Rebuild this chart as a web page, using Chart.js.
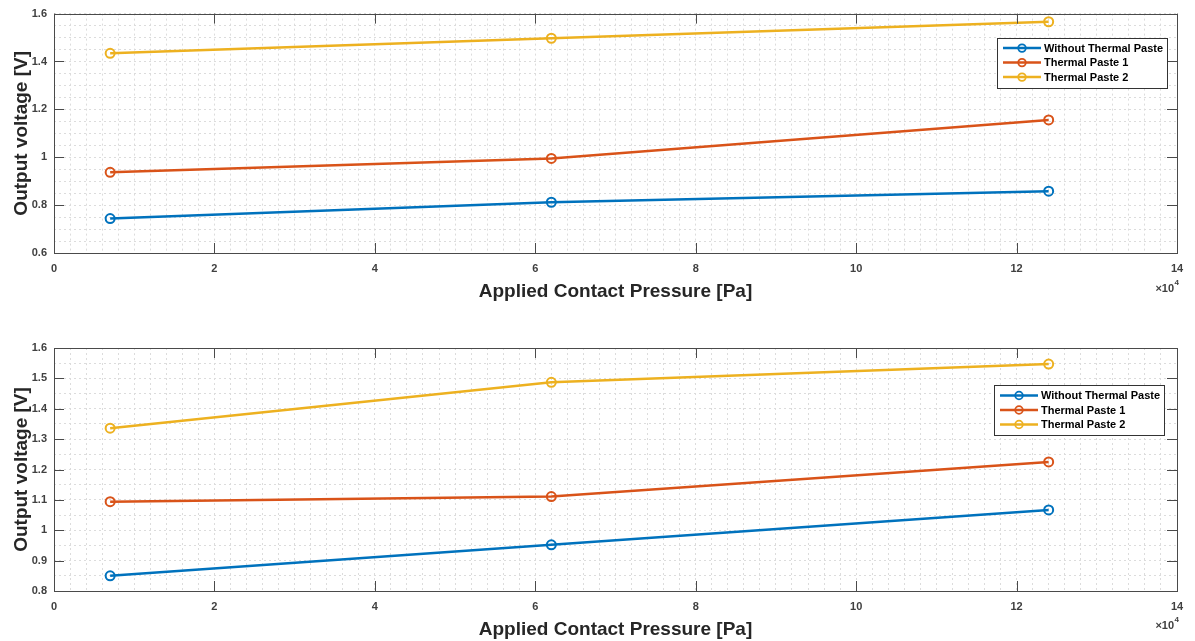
<!DOCTYPE html>
<html><head><meta charset="utf-8">
<script src="https://cdn.jsdelivr.net/npm/chart.js@4/dist/chart.umd.min.js"></script>
<style>
html,body{margin:0;padding:0;background:#fff;overflow:hidden}
.wrap{position:absolute;left:0;width:1195px}
</style></head><body>
<div class="wrap" style="top:0;height:320px"><canvas id="c1" width="1195" height="320"></canvas></div>
<div class="wrap" style="top:320px;height:321px"><canvas id="c2" width="1195" height="321"></canvas></div>
<script>
// ---- data ----
const pressure = [7000, 62000, 124000];
const seriesNames = ['Without Thermal Paste', 'Thermal Paste 1', 'Thermal Paste 2'];
const top_without = [0.744, 0.812, 0.858];
const top_paste1 = [0.937, 0.995, 1.156];
const top_paste2 = [1.434, 1.497, 1.566];
const bottom_without = [0.850, 0.952, 1.067];
const bottom_paste1 = [1.094, 1.111, 1.225];
const bottom_paste2 = [1.336, 1.487, 1.547];
const xMajorTicks = [0, 2, 4, 6, 8, 10, 12, 14];
const topYMajorTicks = [0.6, 0.8, 1, 1.2, 1.4, 1.6];
const bottomYMajorTicks = [0.8, 0.9, 1, 1.1, 1.2, 1.3, 1.4, 1.5, 1.6];
const xExponent = '4';

const colors = ['#0072BD', '#D95319', '#EDB120'];
const FONT = "'Liberation Sans', Arial, Helvetica, sans-serif";

function isMajor(v, list) { return list.some(m => Math.abs(m - v) < 1e-6); }

const matlabPlugin = {
  id: 'matlab',
  afterDatasetsDraw(chart, args, o) {
    const {ctx, chartArea: a, scales: {x, y}} = chart;
    ctx.save();
    ctx.strokeStyle = '#4a4a4a';
    ctx.lineWidth = 1;
    ctx.beginPath();
    const tl = 10;
    xMajorTicks.forEach(t => {
      const px = Math.round(x.getPixelForValue(t * 10000)) + 0.5;
      ctx.moveTo(px, a.bottom); ctx.lineTo(px, a.bottom - tl);
      ctx.moveTo(px, a.top); ctx.lineTo(px, a.top + tl);
    });
    o.yMajor.forEach(t => {
      const py = Math.round(y.getPixelForValue(t)) + 0.5;
      ctx.moveTo(a.left, py); ctx.lineTo(a.left + tl, py);
      ctx.moveTo(a.right, py); ctx.lineTo(a.right - tl, py);
    });
    ctx.stroke();
    ctx.strokeRect(Math.round(a.left) + 0.5, Math.round(a.top) + 0.5,
      Math.round(a.right - a.left), Math.round(a.bottom - a.top));
    ctx.restore();
  },
  afterDraw(chart, args, o) {
    const {ctx, chartArea: a} = chart;
    ctx.save();
    ctx.fillStyle = '#404040';
    ctx.textBaseline = 'middle';
    ctx.textAlign = 'right';
    ctx.font = 'bold 8px ' + FONT;
    const ex = a.right + 2;
    ctx.fillText(xExponent, ex, o.expY - 6);
    const w4 = ctx.measureText(xExponent).width;
    ctx.font = 'bold 11px ' + FONT;
    ctx.fillText('\u00d710', ex - w4 - 0.5, o.expY);
    const L = o.legend;
    const bw = 170, bh = 50;
    const bx = a.right - L.right - bw, by = a.top + L.top;
    ctx.fillStyle = '#fff';
    ctx.fillRect(bx, by, bw, bh);
    ctx.strokeStyle = '#333';
    ctx.lineWidth = 1;
    ctx.strokeRect(Math.round(bx) + 0.5, Math.round(by) + 0.5, bw, bh);
    chart.data.datasets.forEach((ds, i) => {
      const cy = by + 10.5 + i * 14.5;
      ctx.strokeStyle = ds.borderColor;
      ctx.lineWidth = 2.5;
      ctx.beginPath();
      ctx.moveTo(bx + 6, cy); ctx.lineTo(bx + 44, cy);
      ctx.stroke();
      ctx.lineWidth = 1.8;
      ctx.beginPath();
      ctx.arc(bx + 25, cy, 3.8, 0, Math.PI * 2);
      ctx.stroke();
      ctx.fillStyle = '#000';
      ctx.textAlign = 'left';
      ctx.font = 'bold 11px ' + FONT;
      ctx.fillText(ds.label, bx + 47, cy + 0.5);
    });
    ctx.restore();
  }
};

function makeChart(id, series, yMin, yMax, yStep, yMajor, cfg) {
  const datasets = series.map((vals, i) => ({
    label: seriesNames[i],
    data: vals.map((v, j) => ({x: pressure[j], y: v})),
    borderColor: colors[i],
    backgroundColor: 'rgba(0,0,0,0)',
    borderWidth: 2.5,
    pointRadius: 4.5,
    pointBorderWidth: 2,
    pointBackgroundColor: 'rgba(255,255,255,0)',
    pointBorderColor: colors[i],
    tension: 0,
    fill: false
  }));
  return new Chart(document.getElementById(id), {
    type: 'line',
    data: {datasets},
    plugins: [matlabPlugin],
    options: {
      responsive: false,
      animation: false,
      devicePixelRatio: 1,
      layout: {padding: {top: cfg.padTop, right: 18, left: 0, bottom: 0}},
      plugins: {
        legend: {display: false},
        tooltip: {enabled: false},
        matlab: {yMajor, expY: cfg.expY, legend: cfg.legend}
      },
      scales: {
        x: {
          type: 'linear', min: 0, max: 140000,
          afterFit: s => { s.height = cfg.xHeight; },
          grid: {color: '#dcdcdc', lineWidth: 1, drawTicks: false},
          border: {display: false, dash: [2, 3]},
          ticks: {
            stepSize: 2000, autoSkip: false, maxRotation: 0, padding: 9,
            color: '#404040', font: {family: FONT, size: 11, weight: 'bold'},
            callback: v => isMajor(v / 10000, xMajorTicks) ? String(Math.round(v / 10000)) : ''
          },
          title: {
            display: true, text: 'Applied Contact Pressure [Pa]', color: '#262626',
            font: {family: FONT, size: 19, weight: 'bold'},
            padding: {top: 0, bottom: cfg.xTitlePad}
          }
        },
        y: {
          type: 'linear', min: yMin, max: yMax,
          afterFit: s => { s.width = 54; },
          grid: {color: '#dcdcdc', lineWidth: 1, drawTicks: false},
          border: {display: false, dash: [2, 3]},
          ticks: {
            stepSize: yStep, autoSkip: false, padding: 7,
            color: '#404040', font: {family: FONT, size: 11, weight: 'bold'},
            callback: v => isMajor(v, yMajor) ? String(Math.round(v * 10) / 10) : ''
          },
          title: {
            display: true, text: 'Output voltage [V]', color: '#262626',
            font: {family: FONT, size: 19, weight: 'bold'},
            padding: {top: 10, bottom: 0}
          }
        }
      }
    }
  });
}

makeChart('c1', [top_without, top_paste1, top_paste2], 0.6, 1.6, 0.05, topYMajorTicks,
  {padTop: 11, xHeight: 67, xTitlePad: 17, expY: 289, legend: {right: 10, top: 24}});
makeChart('c2', [bottom_without, bottom_paste1, bottom_paste2], 0.8, 1.6, 0.05, bottomYMajorTicks,
  {padTop: 28, xHeight: 50, xTitlePad: 0, expY: 306, legend: {right: 13, top: 37}});
</script>
</body></html>
